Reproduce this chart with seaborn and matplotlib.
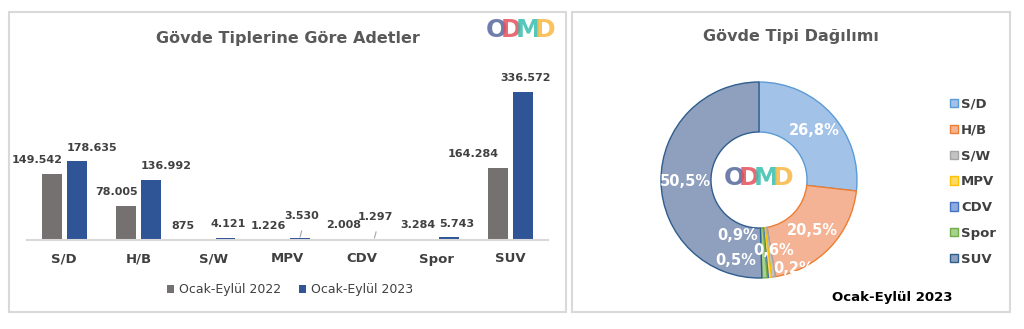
import matplotlib
matplotlib.use("Agg")
import matplotlib.pyplot as plt
import matplotlib.transforms as mtransforms
from matplotlib.patches import Rectangle, Patch
import numpy as np
import pandas as pd
import seaborn as sns

# ---------------- data ----------------
categories = ["S/D", "H/B", "S/W", "MPV", "CDV", "Spor", "SUV"]
series_names = ["Ocak-Eylül 2022", "Ocak-Eylül 2023"]
values_2022 = [149542, 78005, 875, 1226, 2008, 3284, 164284]
values_2023 = [178635, 136992, 4121, 3530, 1297, 5743, 336572]
bar_title = "Gövde Tiplerine Göre Adetler"
pie_title = "Gövde Tipi Dağılımı"
pie_caption = "Ocak-Eylül 2023"

# ---------------- style ----------------
sns.set_theme(style="white")
plt.rcParams["font.family"] = ["DejaVu Sans"]
TXT = "#404040"
TITLE = "#595959"
bar_colors = {series_names[0]: "#767171", series_names[1]: "#2F5597"}
pie_fill = ["#a3c2e8", "#f5b396", "#c3c3c3", "#ffd966", "#8faadc", "#a9d18e", "#8f9fbe"]
pie_edge = ["#5b9bd5", "#ed7d31", "#a5a5a5", "#ffc000", "#4472c4", "#70ad47", "#2e5e8e"]

W, H = 1024, 329
fig = plt.figure(figsize=(W / 100, H / 100), dpi=100)
fig.patch.set_facecolor("white")


def fx(px):
    return px / W


def fy(py):
    return 1 - py / H


# panel borders
for (x0, y0, x1, y1) in [(9, 12, 566, 312), (572, 12, 1010, 312)]:
    fig.patches.append(Rectangle((fx(x0), fy(y1)), fx(x1 - x0), (y1 - y0) / H,
                                 transform=fig.transFigure, fill=False,
                                 edgecolor="#d9d9d9", lw=1.5, zorder=0))


def draw_logo(cx, cy, size_pt):
    letters = ["O", "D", "M", "D"]
    cols = ["#56679c", "#e4505c", "#38bfae", "#f7b844"]
    offs = [-25, -10, 7, 24]
    for ch, c, o in zip(letters, cols, offs):
        tr = mtransforms.offset_copy(fig.transFigure, fig=fig, x=o, y=0, units="dots")
        fig.text(fx(cx), fy(cy), ch, transform=tr, ha="center", va="center",
                 fontsize=size_pt, fontweight="heavy", color=c, alpha=0.85)


# ---------------- bar chart ----------------
df = pd.DataFrame({
    "cat": categories * 2,
    "series": [series_names[0]] * len(categories) + [series_names[1]] * len(categories),
    "value": values_2022 + values_2023,
})

base_px, ymax = 240, 380000
px_per_unit = 148 / 336572
ax_h_px = ymax * px_per_unit
ax = fig.add_axes([fx(27), fy(base_px), fx(548 - 27), ax_h_px / H])
sns.barplot(data=df, x="cat", y="value", hue="series", palette=bar_colors,
            width=0.667, gap=0.2, ax=ax, legend=False, saturation=1,
            edgecolor="none")
ax.set_ylim(0, ymax)
ax.set_xlim(-0.5, len(categories) - 0.5)
ax.set_xlabel("")
ax.set_ylabel("")
ax.set_yticks([])
for s in ["top", "left", "right"]:
    ax.spines[s].set_visible(False)
ax.spines["bottom"].set_color("#d9d9d9")
ax.spines["bottom"].set_linewidth(1.5)
ax.tick_params(axis="x", length=0, pad=9, labelsize=9.5, labelcolor=TXT)
for t in ax.get_xticklabels():
    t.set_fontweight("bold")
ax.patch.set_alpha(0)

raised = {"MPV", "CDV"}
centered_2023 = {"S/W", "SUV"}
shifted_left_2022 = {"S/W", "SUV"}
for si, cont in enumerate(ax.containers):
    vals = values_2022 if si == 0 else values_2023
    for ci, (bar, v) in enumerate(zip(cont.patches, vals)):
        x = bar.get_x()
        w = bar.get_width()
        top = bar.get_height()
        lab = f"{v:,}".replace(",", ".")
        if si == 0:
            xa, ha, dx = x + w, "right", 1
            if categories[ci] in shifted_left_2022:
                xa, ha, dx = x + w / 2, "right", 0
                if categories[ci] == "S/W":
                    xa = x + w * 0.2
        else:
            xa, ha, dx = x, "left", 0
        if si == 1 and categories[ci] in centered_2023:
            xa, ha, dx = x + w / 2, "center", 2
        dy = 10
        if si == 1 and categories[ci] in raised:
            dy = 16
            ax.plot([x + w / 2, x + w / 2 + 0.025],
                    [top + 1 / px_per_unit, top + 8 / px_per_unit],
                    color="#a6a6a6", lw=0.8, solid_capstyle="butt", clip_on=False)
            xa, ha, dx = x + w / 2, "center", 1
        ax.annotate(lab, (xa, top), xytext=(dx, dy), textcoords="offset points",
                    ha=ha, va="center", fontsize=8, fontweight="bold", color=TXT)

fig.text(fx(288), fy(38), bar_title, ha="center", va="center", fontsize=11.5,
         fontweight="bold", color=TITLE)
draw_logo(521, 30, 18)

handles = [Patch(facecolor=bar_colors[n], edgecolor="none") for n in series_names]
fig.legend(handles, series_names, loc="center", bbox_to_anchor=(fx(290), fy(290)),
           ncol=2, frameon=False, fontsize=9, handlelength=0.55, handleheight=0.55,
           handletextpad=0.4, columnspacing=1.4, labelcolor=TXT)

# ---------------- donut ----------------
cx, cy, R = 759, 180, 98
box = 230
pax = fig.add_axes([fx(cx - box / 2), fy(cy + box / 2), fx(box), box / H])
lim = box / 2 / R
wedges, _ = pax.pie(values_2023, colors=pie_fill, startangle=90, counterclock=False,
                    radius=1.0, wedgeprops=dict(width=0.51, linewidth=1.0))
for wdg, ec in zip(wedges, pie_edge):
    wdg.set_edgecolor(ec)
pax.set_xlim(-lim, lim)
pax.set_ylim(-lim, lim)
pax.set_aspect("equal")
pax.axis("off")

total = sum(values_2023)
# label nudges for tiny slices (fraction of radius), like the original layout
nudges = {2: (0.15, -0.72), 3: (-0.24, -0.82), 4: (0.35, -0.90), 5: (-0.22, -0.57)}
for i, (wdg, v) in enumerate(zip(wedges, values_2023)):
    pct = f"{100 * v / total:.1f}%".replace(".", ",")
    if i in nudges:
        tx, ty = nudges[i]
    else:
        ang = np.deg2rad((wdg.theta1 + wdg.theta2) / 2)
        tx, ty = 0.755 * np.cos(ang), 0.755 * np.sin(ang)
    pax.text(tx, ty, pct, ha="center", va="center", fontsize=10.5,
             fontweight="bold", color="white", zorder=5)

fig.text(fx(791), fy(36), pie_title, ha="center", va="center", fontsize=11.5,
         fontweight="bold", color=TITLE)
draw_logo(759, 178, 18)

pie_handles = [Patch(facecolor=f, edgecolor=e, lw=1.0) for f, e in zip(pie_fill, pie_edge)]
fig.legend(pie_handles, categories, loc="upper left", bbox_to_anchor=(fx(938), fy(86)),
           frameon=False, handlelength=0.6, handleheight=0.6,
           handletextpad=0.25, labelspacing=0.97, labelcolor=TXT,
           prop=dict(weight="bold", size=9.5))

fig.text(fx(892), fy(297), pie_caption, ha="center", va="center", fontsize=9.5,
         fontweight="bold", color="black")

fig.savefig("out.png", dpi=100, facecolor="white")
